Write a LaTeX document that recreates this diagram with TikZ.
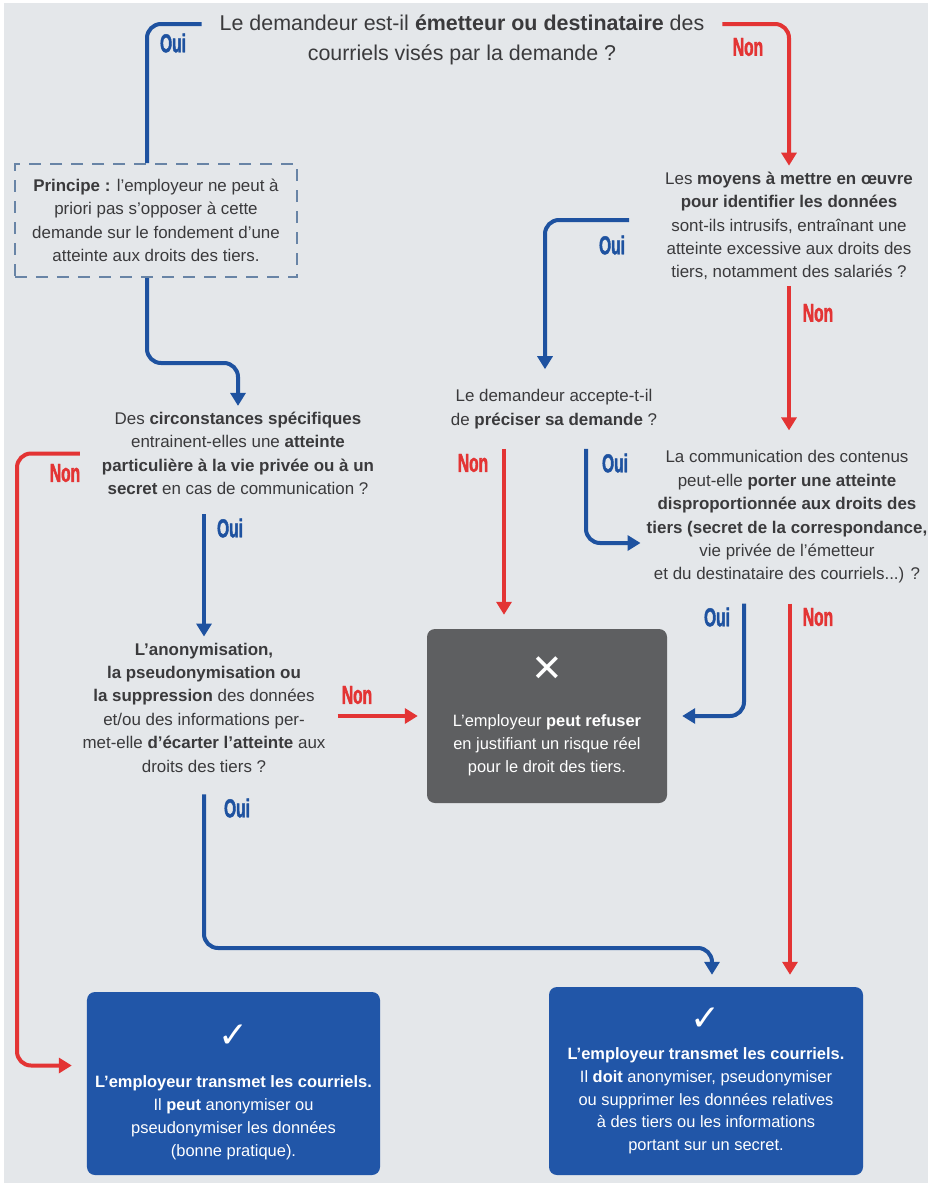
\documentclass[tikz,border=0pt]{standalone}
\usepackage{fontspec}
\setmainfont{Liberation Sans}
\newfontfamily\labfont{Liberation Sans}[FakeStretch=0.6,FakeBold=1.6]
\newfontfamily\symfont{DejaVu Sans}
\usetikzlibrary{arrows.meta,positioning,calc}
\definecolor{fond}{RGB}{228,231,234}
\definecolor{encre}{RGB}{58,58,60}
\definecolor{bleu}{RGB}{30,82,160}
\definecolor{rouge}{RGB}{227,52,52}
\definecolor{ardoise}{RGB}{94,95,97}
\definecolor{bleubox}{RGB}{33,86,168}
\definecolor{pointille}{RGB}{104,132,166}

\begin{document}
\begin{tikzpicture}[x=1bp,y=-1bp,
q/.style={align=center,text=encre,inner sep=6bp,font=\fontsize{17}{23.5}\selectfont},
box/.style={align=center,text=white,rounded corners=8bp,inner sep=6bp,font=\fontsize{16.5}{23}\selectfont},
lab/.style={font=\labfont\bfseries\fontsize{26}{26}\selectfont,inner sep=0pt},
oui/.style={draw=bleu,line width=4bp,rounded corners=14bp,-{Triangle[length=13bp,width=15bp]}},
non/.style={draw=rouge,line width=4bp,rounded corners=14bp,-{Triangle[length=13bp,width=15bp]}}]
\useasboundingbox (0,0) rectangle (928,1183);
\fill[white] (0,0) rectangle (928,1183);
\fill[fond] (4,3) rectangle (928,1183);

\node[q,font=\fontsize{21.5}{30}\selectfont] (q1) at (462,40) {Le demandeur est-il \textbf{émetteur ou destinataire} des\\courriels visés par la demande ?};
\node[q,draw=pointille,line width=2bp,dash pattern=on 12bp off 9bp,minimum width=282bp,minimum height=113bp] (principe) at (156,220.5) {\textbf{Principe :} l’employeur ne peut à\\priori pas s’opposer à cette\\demande sur le fondement d’une\\atteinte aux droits des tiers.};
\node[q] (q2) at (238,453.5) {Des \textbf{circonstances spécifiques}\\entrainent-elles une \textbf{atteinte}\\\textbf{particulière à la vie privée ou à un}\\\textbf{secret} en cas de communication ?};
\node[q] (q3) at (789,226) {Les \textbf{moyens à mettre en œuvre}\\\textbf{pour identifier les données}\\sont-ils intrusifs, entraînant une\\atteinte excessive aux droits des\\tiers, notamment des salariés ?};
\node[q] (q4) at (554,409) {Le demandeur accepte-t-il\\de \textbf{préciser sa demande} ?};
\node[q] (q5) at (787,517) {La communication des contenus\\peut-elle \textbf{porter une atteinte}\\\textbf{disproportionnée aux droits des}\\\textbf{tiers (secret de la correspondance,}\\vie privée de l’émetteur\\et du destinataire des courriels...) ?};
\node[q] (q6) at (204,707.5) {\textbf{L’anonymisation,}\\\textbf{la pseudonymisation ou}\\\textbf{la suppression} des données\\et/ou des informations per-\\met-elle \textbf{d’écarter l’atteinte} aux\\droits des tiers ?};
\node[box,fill=ardoise,minimum width=240bp,minimum height=174bp] (refus) at (547,716) {{\symfont\fontsize{38}{38}\selectfont ✕}\\[22bp]L’employeur \textbf{peut refuser}\\en justifiant un risque réel\\pour le droit des tiers.};
\node[box,fill=bleubox,minimum width=293bp,minimum height=183bp] (ok1) at (233.5,1083.5) {{\symfont\fontsize{36}{36}\selectfont\rule{0pt}{40bp}✓}\\[17bp]\textbf{L’employeur transmet les courriels.}\\Il \textbf{peut} anonymiser ou\\pseudonymiser les données\\(bonne pratique).};
\node[box,fill=bleubox,minimum width=314bp,minimum height=188bp] (ok2) at (706,1081) {{\symfont\fontsize{36}{36}\selectfont ✓}\\[6bp]\textbf{L’employeur transmet les courriels.}\\Il \textbf{doit} anonymiser, pseudonymiser\\ou supprimer les données relatives\\à des tiers ou les informations\\portant sur un secret.};

\coordinate (b1) at (190,363);
\coordinate (f1) at ([xshift=-50bp]q4.south);
\coordinate (g1) at ([xshift=32bp]q4.south);
\coordinate (h1) at ([xshift=-43bp]q5.south);
\coordinate (i1) at ([xshift=3bp]q5.south);
\coordinate (k1) at (500,948);
\coordinate (k2) at ([xshift=6bp]ok2.north);
\coordinate (m1) at (17,1000);
\coordinate (m2) at ([yshift=18bp]ok1.west);

\draw[oui,-] ([xshift=-12bp,yshift=16bp]q1.west) -| ([xshift=-9bp]principe.north);
\draw[oui] ([xshift=-9bp]principe.south) |- (b1) -| (q2.north);
\draw[non] ([xshift=12bp,yshift=16bp]q1.east) -| (q3.north);
\draw[oui,shorten >=14bp] ([xshift=-30bp,yshift=6bp]q3.west) -| ([xshift=-9bp]q4.north);
\draw[non,shorten >=14bp] (q3.south) -- (q3.south |- q5.north);
\draw[non,shorten <=14bp,shorten >=14bp] (f1) -- (f1 |- refus.north);
\draw[oui,shorten <=14bp] (g1) |- ([yshift=-26bp]q5.west);
\draw[oui,shorten <=14bp,shorten >=15bp] (h1) |- (refus.east);
\draw[non,shorten <=14bp,shorten >=12bp] (i1) -- (i1 |- ok2.north);
\draw[non,shorten <=6bp,shorten >=9bp] (q6.east |- refus.west) -- (refus.west);
\draw[oui,shorten <=16bp,shorten >=12bp] (q6.south) |- (k1) -| (k2);
\draw[oui,shorten <=13bp] (q2.south -| q6.north) -- (q6.north);
\draw[non,shorten <=16bp,shorten >=15bp] (q2.west) -| (m1) |- (m2);

\node[lab,text=bleu] (l1) at (173,43) {Oui};
\node[lab,text=rouge] (l2) at (748,47) {Non};
\node[lab,text=bleu] (l3) at (612,245) {Oui};
\node[lab,text=rouge] (l4) at (818,313) {Non};
\node[lab,text=rouge] (l5) at (473,463) {Non};
\node[lab,text=bleu] (l6) at (615,463) {Oui};
\node[lab,text=bleu] (l7) at (717,617) {Oui};
\node[lab,text=rouge] (l8) at (818,617) {Non};
\node[lab,text=rouge] (l9) at (357,695) {Non};
\node[lab,text=bleu] (l10) at (237,808) {Oui};
\node[lab,text=bleu] (l11) at (230,528) {Oui};
\node[lab,text=rouge] (l12) at (65,473) {Non};
\end{tikzpicture}
\end{document}
